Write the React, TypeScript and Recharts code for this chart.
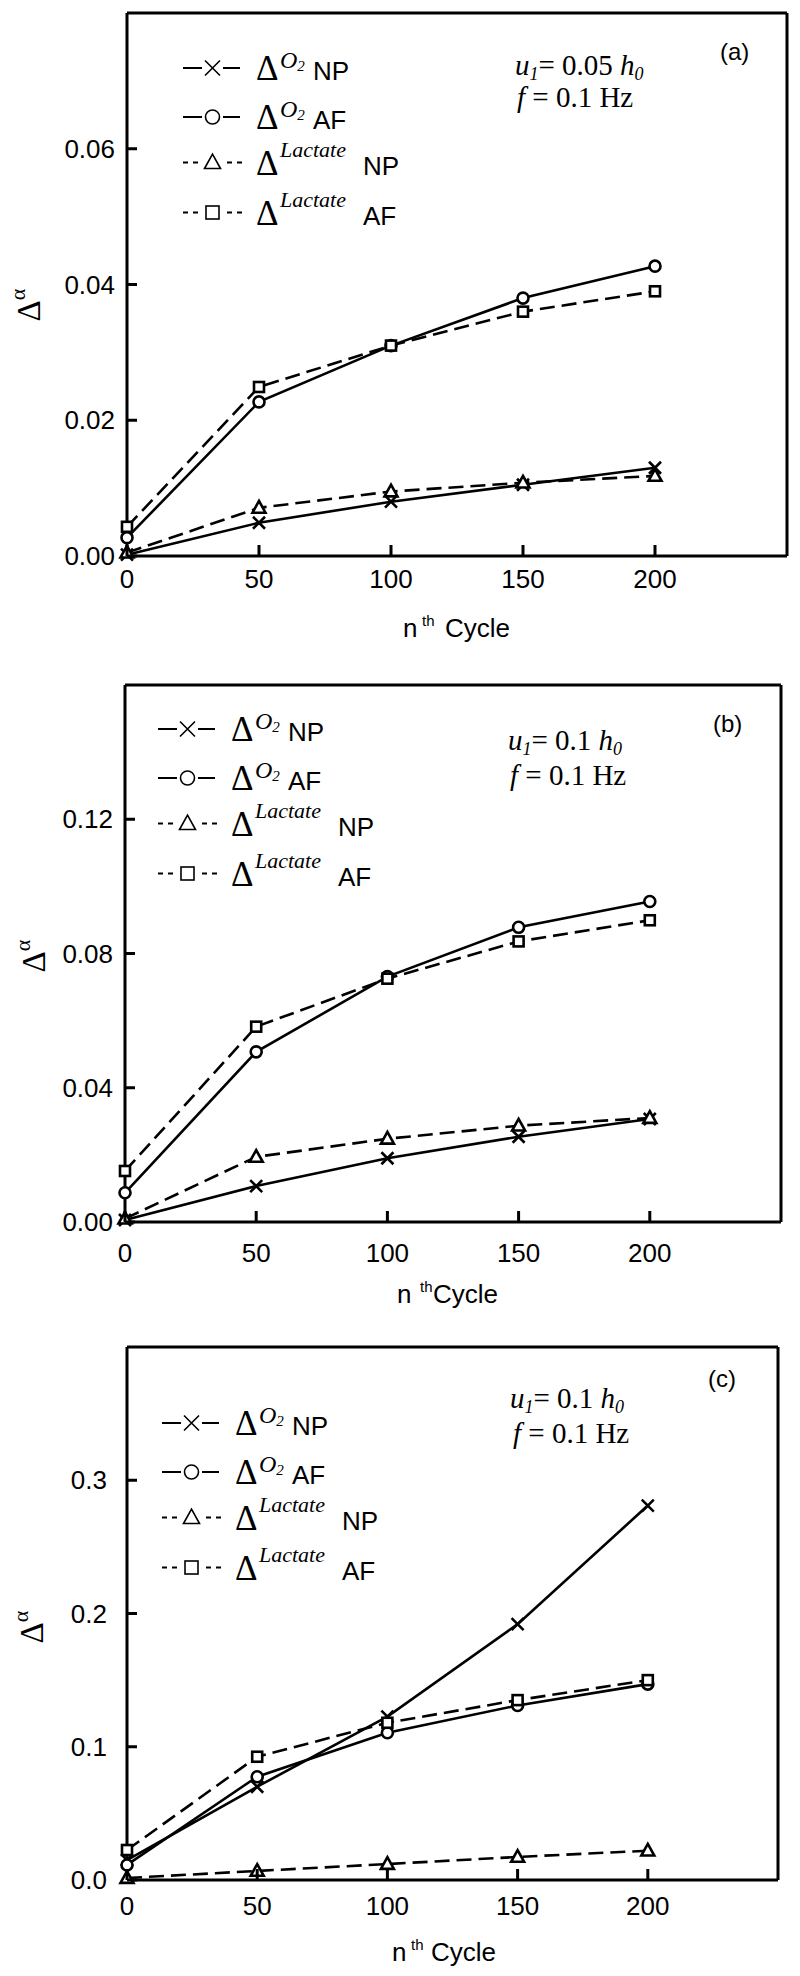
import React from 'react';
import { LineChart, Line, XAxis, YAxis, ReferenceLine, Legend } from 'recharts';

const SANS = '"Liberation Sans", Arial, Helvetica, sans-serif';
const SERIF = '"Liberation Serif", "Times New Roman", Times, serif';

// ---------- data ----------
const cycles = [0, 50, 100, 150, 200];
const xTicks = [0, 50, 100, 150, 200];

// panel (a)  u1 = 0.05 h0
const aO2NP = [0.0002, 0.0049, 0.008, 0.0105, 0.013];
const aO2AF = [0.0027, 0.0227, 0.031, 0.038, 0.0427];
const aLacNP = [0.0005, 0.0071, 0.0095, 0.0108, 0.0118];
const aLacAF = [0.0043, 0.0249, 0.031, 0.036, 0.039];
const aYTicks = [0, 0.02, 0.04, 0.06];

// panel (b)  u1 = 0.1 h0
const bO2NP = [0.0006, 0.0107, 0.019, 0.0254, 0.0307];
const bO2AF = [0.0087, 0.0507, 0.0731, 0.0878, 0.0955];
const bLacNP = [0.001, 0.0194, 0.0248, 0.0287, 0.031];
const bLacAF = [0.0152, 0.0582, 0.0725, 0.0836, 0.0899];
const bYTicks = [0, 0.04, 0.08, 0.12];

// panel (c)  u1 = 0.1 h0
const cO2NP = [0.015, 0.07, 0.1226, 0.192, 0.281];
const cO2AF = [0.0113, 0.0775, 0.1105, 0.131, 0.147];
const cLacNP = [0.0015, 0.0068, 0.012, 0.0173, 0.022];
const cLacAF = [0.0225, 0.0925, 0.118, 0.135, 0.15];
const cYTicks = [0, 0.1, 0.2, 0.3];

type Shape = 'cross' | 'circle' | 'triangle' | 'square';
const seriesDefs: { key: string; name: string; sup: string; tag: string; dashed: boolean; shape: Shape }[] = [
  { key: 'o2np', name: 'O2 NP', sup: 'O2', tag: 'NP', dashed: false, shape: 'cross' },
  { key: 'o2af', name: 'O2 AF', sup: 'O2', tag: 'AF', dashed: false, shape: 'circle' },
  { key: 'lacnp', name: 'Lactate NP', sup: 'Lactate', tag: 'NP', dashed: true, shape: 'triangle' },
  { key: 'lacaf', name: 'Lactate AF', sup: 'Lactate', tag: 'AF', dashed: true, shape: 'square' },
];

function buildRows(o2np: number[], o2af: number[], lacnp: number[], lacaf: number[]) {
  return cycles.map((n, i) => ({ n, o2np: o2np[i], o2af: o2af[i], lacnp: lacnp[i], lacaf: lacaf[i] }));
}

// ---------- markers ----------
function shapeEl(shape: Shape, cx: number, cy: number, s: number, sw: number, key?: any) {
  const common = { stroke: '#000', strokeWidth: sw, fill: '#fff' };
  switch (shape) {
    case 'cross':
      return (
        <path key={key} d={`M${cx - s} ${cy - s}L${cx + s} ${cy + s}M${cx - s} ${cy + s}L${cx + s} ${cy - s}`}
          stroke="#000" strokeWidth={sw} fill="none" />
      );
    case 'circle':
      return <circle key={key} cx={cx} cy={cy} r={s} {...common} />;
    case 'triangle':
      return <path key={key} d={`M${cx} ${cy - s * 1.05}L${cx + s} ${cy + s * 0.75}L${cx - s} ${cy + s * 0.75}Z`} {...common} />;
    default:
      return <rect key={key} x={cx - s} y={cy - s} width={2 * s} height={2 * s} {...common} />;
  }
}
const plotSize: Record<Shape, number> = { cross: 6, circle: 5.5, triangle: 6.5, square: 5 };
const legendSize: Record<Shape, number> = { cross: 7.5, circle: 7, triangle: 8, square: 6.5 };

const rowOffsets = [0, 49, 94.5, 144.5];

function LegendBox(props: any) {
  const payload = props.payload || [];
  const keys = payload.map((p: any) => p.dataKey);
  const items = seriesDefs.filter((s) => keys.length === 0 || keys.indexOf(s.key) >= 0);
  return (
    <svg width={270} height={200} style={{ display: 'block', overflow: 'visible' }}>
      {items.map((s: any, i: number) => {
        const y = 30 + rowOffsets[i];
        return (
          <g key={s.key}>
            {s.dashed ? (
              <>
                <line x1={5} x2={20} y1={y} y2={y} stroke="#000" strokeWidth={2} strokeDasharray="5 5" />
                <line x1={49} x2={64} y1={y} y2={y} stroke="#000" strokeWidth={2} strokeDasharray="5 5" />
              </>
            ) : (
              <>
                <line x1={5} x2={24} y1={y} y2={y} stroke="#000" strokeWidth={2} />
                <line x1={45} x2={62} y1={y} y2={y} stroke="#000" strokeWidth={2} />
              </>
            )}
            {shapeEl(s.shape, 34.5, y, legendSize[s.shape as Shape], 1.6)}
            <text x={78} y={y + 12} fontFamily={SERIF} fontSize={35} fill="#000">Δ</text>
            {s.sup === 'O2' ? (
              <text x={102} y={y} fontFamily={SERIF} fontStyle="italic" fontSize={24} fill="#000">
                O<tspan fontSize={15} dy={3}>2</tspan>
              </text>
            ) : (
              <text x={102} y={y - 6} fontFamily={SERIF} fontStyle="italic" fontSize={22} fill="#000">Lactate</text>
            )}
            <text x={s.sup === 'O2' ? 135 : 185} y={y + 12} fontFamily={SANS} fontSize={26} fill="#000">{s.tag}</text>
          </g>
        );
      })}
    </svg>
  );
}

type Cfg = {
  id: string; top: number; h: number; L: number; T: number; R: number; B: number;
  yMax: number; yTicks: number[]; dec: number; yGap: number; xLblDy: number;
  rows: any[]; legX: number; legY: number;
  yLblX: number; yLblY: number; nX: number; thX: number; cycX: number;
  tagX: number; tagY: number; uX: number; uY: number; fX: number; fY: number; uVal: string;
};

const panels: Cfg[] = [
  {
    id: '(a)', top: 0, h: 660, L: 127, T: 13, R: 787, B: 556, yMax: 0.08, yTicks: aYTicks, dec: 2, yGap: 12, xLblDy: 32,
    rows: buildRows(aO2NP, aO2AF, aLacNP, aLacAF), legX: 178, legY: 38,
    yLblX: 40, yLblY: 305, nX: 403, thX: 422, cycX: 445,
    tagX: 720, tagY: 60, uX: 515, uY: 75, fX: 517, fY: 107, uVal: '0.05',
  },
  {
    id: '(b)', top: 660, h: 660, L: 125, T: 685, R: 781, B: 1222, yMax: 0.16, yTicks: bYTicks, dec: 2, yGap: 12, xLblDy: 40,
    rows: buildRows(bO2NP, bO2AF, bLacNP, bLacAF), legX: 153, legY: 39,
    yLblX: 45, yLblY: 956, nX: 397, thX: 420, cycX: 433,
    tagX: 713, tagY: 732, uX: 508, uY: 750, fX: 510, fY: 785, uVal: '0.1',
  },
  {
    id: '(c)', top: 1320, h: 656, L: 127, T: 1347, R: 778, B: 1880, yMax: 0.4, yTicks: cYTicks, dec: 1, yGap: 20, xLblDy: 35,
    rows: buildRows(cO2NP, cO2AF, cLacNP, cLacAF), legX: 157, legY: 73,
    yLblX: 43, yLblY: 1627, nX: 392, thX: 411, cycX: 431,
    tagX: 708, tagY: 1387, uX: 510, uY: 1408, fX: 513, fY: 1443, uVal: '0.1',
  },
];

const Y_AXIS_W = 60;

function Panel({ c }: { c: Cfg }) {
  const margin = { top: c.T - c.top, left: c.L - Y_AXIS_W, right: 800 - c.R, bottom: c.top + c.h - c.B - 30 };
  const ly = (y: number) => y - c.top;
  return (
    <div style={{ position: 'absolute', left: 0, top: c.top, width: 800, height: c.h }}>
      <LineChart width={800} height={c.h} data={c.rows} margin={margin}>
        <XAxis
          dataKey="n" type="number" domain={[0, 250]} ticks={xTicks} interval={0} height={30}
          tickSize={0} tickMargin={0} tickLine={false}
          axisLine={{ stroke: '#000', strokeWidth: 3 }}
          tick={(p: any) => (
            <g key={`xt${p.payload.value}`}>
              <line x1={p.x} x2={p.x} y1={p.y} y2={p.y - 11} stroke="#000" strokeWidth={3} />
              <text x={p.x} y={p.y + c.xLblDy} textAnchor="middle" fontFamily={SANS} fontSize={26} fill="#000">
                {p.payload.value}
              </text>
            </g>
          )}
          label={() => (
            <text y={ly(c.B) + 81} fontFamily={SANS} fontSize={26} fill="#000">
              <tspan x={c.nX}>n</tspan>
              <tspan x={c.thX} fontSize={15} dy={-11}>th</tspan>
              <tspan x={c.cycX} dy={11}>Cycle</tspan>
            </text>
          )}
        />
        <YAxis
          type="number" domain={[0, c.yMax]} ticks={c.yTicks} interval={0} width={Y_AXIS_W}
          tickSize={0} tickMargin={0} tickLine={false}
          axisLine={{ stroke: '#000', strokeWidth: 3 }}
          tick={(p: any) => (
            <g key={`yt${p.payload.value}`}>
              <line x1={c.L} x2={c.L + 10} y1={p.y} y2={p.y} stroke="#000" strokeWidth={3} />
              <text x={c.L - c.yGap} y={p.y + 9} textAnchor="end" fontFamily={SANS} fontSize={26} fill="#000">
                {Number(p.payload.value).toFixed(c.dec)}
              </text>
            </g>
          )}
          label={() => (
            <text transform={`translate(${c.yLblX},${ly(c.yLblY)}) rotate(-90)`} textAnchor="middle" fill="#000">
              <tspan fontFamily={SERIF} fontSize={33}>Δ</tspan>
              <tspan fontFamily={SERIF} fontSize={22} dy={-15}>α</tspan>
            </text>
          )}
        />
        <ReferenceLine y={c.yMax} stroke="#000" strokeWidth={3} ifOverflow="visible" />
        <ReferenceLine x={250} stroke="#000" strokeWidth={3} ifOverflow="visible" />
        <Legend
          layout="vertical" align="center" verticalAlign="middle"
          content={(p: any) => <LegendBox {...p} />}
          wrapperStyle={{ top: c.legY, left: c.legX, width: 270, height: 200 }}
        />
        {seriesDefs.map((s) => (
          <Line
            key={s.key} dataKey={s.key} name={s.name} type="linear" stroke="#000"
            strokeWidth={2.6} strokeDasharray={s.dashed ? '15 7' : undefined}
            dot={(p: any) => shapeEl(s.shape, p.cx, p.cy, plotSize[s.shape], 2.6, `${s.key}${p.index}`)}
            activeDot={false} isAnimationActive={false}
          />
        ))}
      </LineChart>
      <svg width={800} height={c.h} style={{ position: 'absolute', left: 0, top: 0, pointerEvents: 'none' }}>
        <text x={c.tagX} y={ly(c.tagY)} fontFamily={SANS} fontSize={24} fill="#000">{c.id}</text>
        <text x={c.uX} y={ly(c.uY)} fontFamily={SERIF} fontSize={29} fill="#000">
          <tspan fontStyle="italic">u</tspan>
          <tspan fontStyle="italic" fontSize={18} dy={5}>1</tspan>
          <tspan dy={-5}>{`= ${c.uVal} `}</tspan>
          <tspan fontStyle="italic">h</tspan>
          <tspan fontStyle="italic" fontSize={18} dy={5}>0</tspan>
        </text>
        <text x={c.fX} y={ly(c.fY)} fontFamily={SERIF} fontSize={29} fill="#000">
          <tspan fontStyle="italic">f</tspan>
          <tspan>{' = 0.1 Hz'}</tspan>
        </text>
      </svg>
    </div>
  );
}

export default function App() {
  return (
    <div style={{ position: 'relative', width: 800, height: 1976, margin: '-8px 0 0 -8px', background: '#fff' }}>
      {panels.map((c) => (
        <Panel key={c.id} c={c} />
      ))}
    </div>
  );
}
